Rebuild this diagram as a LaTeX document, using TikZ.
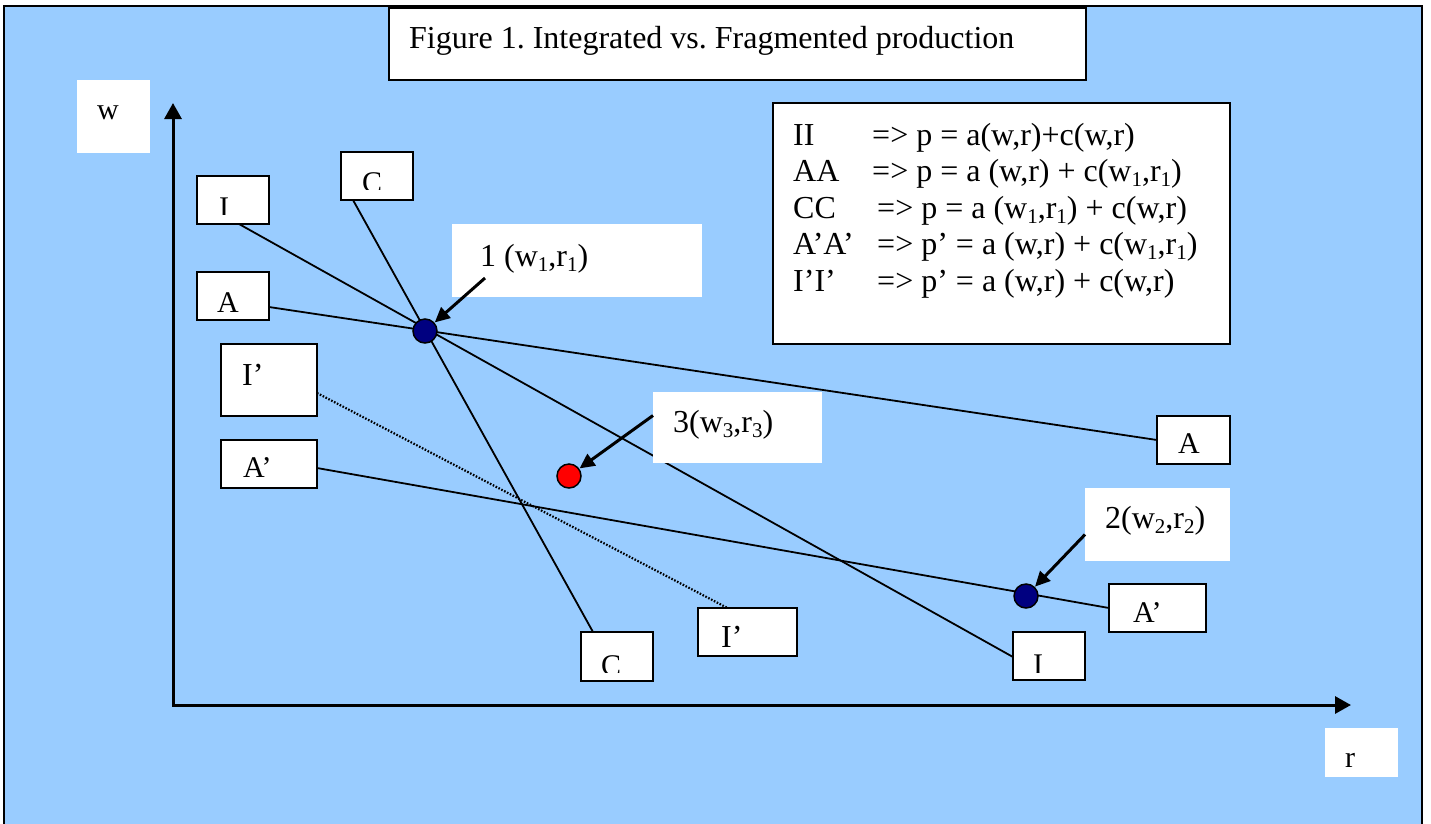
\documentclass[tikz,border=0pt]{standalone}
\usepackage{fontspec}
\setmainfont{Liberation Serif}
\usetikzlibrary{arrows.meta}
\definecolor{bgblue}{HTML}{99CCFF}
\definecolor{ptnavy}{HTML}{000080}
\definecolor{ptred}{HTML}{FF0000}
\newcommand{\lowsub}[1]{\raisebox{-0.16em}{\fontsize{21}{21}\selectfont #1}}
\frenchspacing
\begin{document}
\begin{tikzpicture}[x=1pt,y=-1pt,
  box/.style={draw=black, line width=2pt, fill=white, inner sep=0pt, outer sep=0pt, anchor=north west},
  wbox/.style={fill=white, inner sep=0pt, outer sep=0pt, anchor=north west},
  lbl/.style={inner sep=0pt, anchor=base, font=\fontsize{30}{30}\selectfont},
  lblw/.style={inner sep=0pt, anchor=base west, font=\fontsize{30}{30}\selectfont},
  big/.style={inner sep=0pt, anchor=base west, font=\fontsize{32}{32}\selectfont},
  ln/.style={line width=1.8pt, black},
  dotln/.style={line width=2.2pt, black, dash pattern=on 1.6pt off 1.6pt},
  ptr/.style={line width=3pt, black, -{Triangle[length=15pt,width=14pt]}, shorten >=1pt},
  axis/.style={line width=3pt, black, line join=miter, {Triangle[length=16pt,width=17pt]}-{Triangle[length=16pt,width=17pt]}},
  pt/.style={circle, draw=black, line width=1.5pt, minimum size=24pt, inner sep=0pt, outer sep=0pt}
]
\useasboundingbox (0,0) rectangle (1431,823);
\fill[white] (0,0) rectangle (1431,823);
\draw[line width=2pt, fill=bgblue] (4,6) rectangle (1422,840);

% title
\node[box, minimum width=697pt, minimum height=72pt] (title) at (389,8) {};
\node[big] (titletext) at (409,48) {Figure 1. Integrated vs. Fragmented production};

% legend
\node[box, minimum width=457pt, minimum height=241pt] (legend) at (773,103) {};
\node[big] (k1) at (793,145) {II};
\node[big] (e1) at (872,145) {=> p = a(w,r)+c(w,r)};
\node[big] (k2) at (793,181.5) {AA};
\node[big] (e2) at (872,181.5) {=> p = a (w,r) + c(w\lowsub{1},r\lowsub{1})};
\node[big] (k3) at (793,218) {CC};
\node[big] (e3) at (877,218) {=> p = a (w\lowsub{1},r\lowsub{1}) + c(w,r)};
\node[big] (k4) at (793,254.5) {A’A’};
\node[big] (e4) at (877,254.5) {=> p’ = a (w,r) + c(w\lowsub{1},r\lowsub{1})};
\node[big] (k5) at (793,291) {I’I’};
\node[big] (e5) at (877,291) {=> p’ = a (w,r) + c(w,r)};

% axis labels
\node[wbox, minimum width=73pt, minimum height=73pt] (wlab) at (77,80) {};
\node[lbl] (wtext) at (108,119) {w};
\node[wbox, minimum width=73pt, minimum height=49pt] (rlab) at (1325,728) {};
\node[lblw] (rtext) at (1345,767) {r};

% axes
\coordinate (O) at (173,705);
\coordinate (ytip) at (173,103);
\coordinate (xtip) at (1351,705);
\draw[axis] (ytip) -- (O) -- (xtip);

% letter boxes
\node[box, minimum width=72pt, minimum height=48pt] (Itop) at (197,176) {};
\begin{scope}\clip (197,176) rectangle (269,214);
\node[lbl] (ItopT) at (224,217) {I};
\end{scope}
\node[box, minimum width=72pt, minimum height=48pt] (Ctop) at (341,152) {};
\begin{scope}\clip (341,152) rectangle (413,189);
\node[lbl] (CtopT) at (372,192) {C};
\end{scope}
\node[box, minimum width=72pt, minimum height=48pt] (Al) at (197,272) {};
\node[lbl] (AlT) at (228,312) {A};
\node[box, minimum width=96pt, minimum height=72pt] (Ipl) at (221,344) {};
\node[big] (IplT) at (242,385) {I’};
\node[box, minimum width=96pt, minimum height=48pt] (Apl) at (221,440) {};
\node[lblw] (AplT) at (243,477) {A’};
\node[box, minimum width=73pt, minimum height=48pt] (Ar) at (1157,416) {};
\node[lbl] (ArT) at (1189,453) {A};
\node[box, minimum width=97pt, minimum height=48pt] (Apr) at (1109,584) {};
\node[lblw] (AprT) at (1133,622) {A’};
\node[box, minimum width=72pt, minimum height=49pt] (Cb) at (581,632) {};
\begin{scope}\clip (581,632) rectangle (653,672);
\node[lbl] (CbT) at (611,675) {C};
\end{scope}
\node[box, minimum width=99pt, minimum height=48pt] (Ipb) at (698,608) {};
\node[big] (IpbT) at (721,647) {I’};
\node[box, minimum width=72pt, minimum height=48pt] (Ib) at (1013,632) {};
\begin{scope}\clip (1013,632) rectangle (1085,672);
\node[lbl] (IbT) at (1038,674) {I};
\end{scope}

% curves
\draw[ln] ([xshift=6pt]Itop.south) -- ([yshift=-1pt]Ib.west);
\draw[ln] ([xshift=-24pt]Ctop.south) -- ([xshift=-24pt]Cb.north);
\draw[ln] ([yshift=-11pt]Al.east) -- (Ar.west);
\draw[ln] ([yshift=-4pt]Apl.east) -- (Apr.west);
\draw[dotln] ([yshift=-13pt]Ipl.east) -- ([xshift=-20pt]Ipb.north);

% point labels
\node[wbox, minimum width=250pt, minimum height=73pt] (L1) at (452,224) {};
\node[big] (L1T) at (480,266) {1 (w\lowsub{1},r\lowsub{1})};
\node[wbox, minimum width=169pt, minimum height=71pt] (L3) at (653,392) {};
\node[big] (L3T) at (673,432) {3(w\lowsub{3},r\lowsub{3})};
\node[wbox, minimum width=145pt, minimum height=73pt] (L2) at (1085,488) {};
\node[big] (L2T) at (1105,528) {2(w\lowsub{2},r\lowsub{2})};

% points
\node[pt, fill=ptnavy] (P1) at (425,331) {};
\node[pt, fill=ptred] (P3) at (569,476) {};
\node[pt, fill=ptnavy] (P2) at (1026,596) {};

% pointers
\draw[ptr] ([xshift=33pt,yshift=19pt]L1.south west) -- (P1);
\draw[ptr] ([yshift=12pt]L3.west) -- (P3);
\draw[ptr] ([yshift=-10pt]L2.west) -- (P2);
\end{tikzpicture}
\end{document}
